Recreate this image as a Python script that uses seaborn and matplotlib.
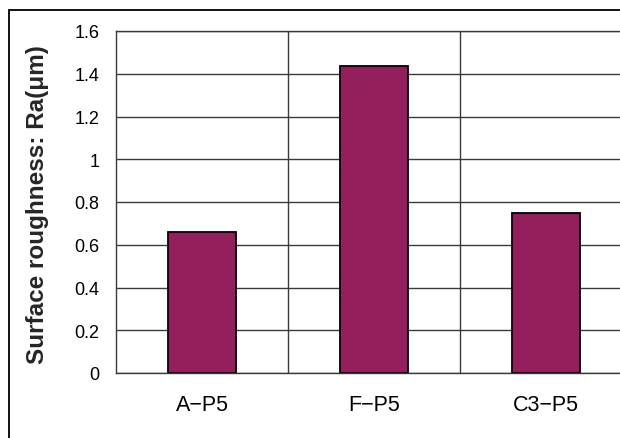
import matplotlib
matplotlib.use("Agg")
import matplotlib.pyplot as plt
from matplotlib.patches import Rectangle
import pandas as pd
import seaborn as sns

# Surface roughness per sample
samples = ["A\u2212P5", "F\u2212P5", "C3\u2212P5"]
ra_values = [0.66, 1.435, 0.75]
y_ticks = [0, 0.2, 0.4, 0.6, 0.8, 1, 1.2, 1.4, 1.6]
y_tick_labels = ["0", "0.2", "0.4", "0.6", "0.8", "1", "1.2", "1.4", "1.6"]

sns.set_style("white")
plt.rcParams["font.family"] = ["Liberation Sans", "DejaVu Sans"]

W, H = 620, 439
fig = plt.figure(figsize=(W / 100, H / 100), dpi=100)
ax = fig.add_axes([116 / W, 1 - 374 / H, (632 - 116) / W, (374 - 32) / H])

df = pd.DataFrame({"sample": samples, "ra": ra_values})
sns.barplot(data=df, x="sample", y="ra", color="#951E5D", width=0.4,
            edgecolor="black", linewidth=1.3, saturation=1, ax=ax)

grid_color = "#3a3a3a"
ax.set_ylim(0, 1.6)
ax.set_xlim(-0.5, 2.5)
ax.set_yticks(y_ticks)
ax.set_yticklabels(y_tick_labels)
ax.set_xticks([0.5, 1.5], minor=True)
ax.set_axisbelow(True)
ax.grid(which="major", axis="y", color=grid_color, linewidth=1)
ax.grid(which="minor", axis="x", color=grid_color, linewidth=1)
ax.grid(which="major", axis="x", visible=False)

for side in ["left", "bottom", "top", "right"]:
    ax.spines[side].set_visible(True)
    ax.spines[side].set_color(grid_color)
    ax.spines[side].set_linewidth(1)

ax.tick_params(axis="y", direction="in", length=5, color=grid_color,
               labelsize=13, pad=12, labelcolor="black")
ax.tick_params(axis="x", which="major", length=0, labelsize=15.5, pad=15,
               labelcolor="black")
ax.tick_params(axis="x", which="minor", direction="in", length=5,
               color=grid_color)
ax.set_xlabel("")
ax.set_ylabel("")

fig.text(38 / W, 1 - 205 / H, "Surface roughness: Ra(\u03bcm)", rotation=90,
         ha="center", va="center", fontsize=17.5, fontweight="bold")

# Chart frame around the plot
fig.add_artist(Rectangle((9 / W, -0.5), 2, 1.5 - 11 / H, fill=False,
                         edgecolor="black", linewidth=1.3,
                         transform=fig.transFigure))

fig.savefig("out.png", dpi=100)
